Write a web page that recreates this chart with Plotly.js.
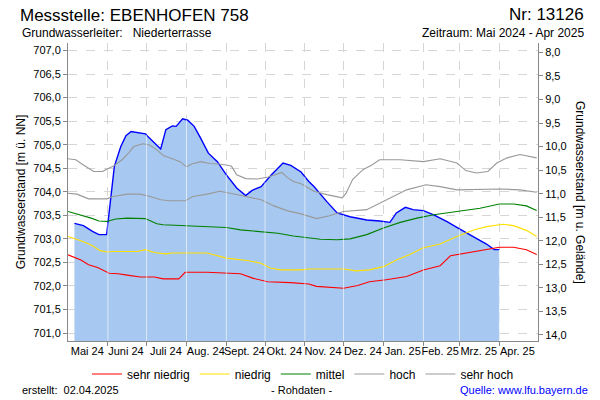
<!DOCTYPE html>
<html><head><meta charset="utf-8">
<script src="https://cdn.plot.ly/plotly-3.0.1.min.js"></script>
<style>html,body{margin:0;padding:0;background:#fff}#chart{width:600px;height:400px}</style>
</head><body><div id="chart"></div>
<script>
// ---------- data ----------
const GELAENDE = 714.96; // ground level [m ü. NN]

const messDates = ['2024-05-06','2024-05-13','2024-05-20','2024-05-25','2024-05-31','2024-06-03','2024-06-06','2024-06-11','2024-06-15','2024-06-19','2024-06-24','2024-06-30','2024-07-06','2024-07-12','2024-07-16','2024-07-21','2024-07-24','2024-07-29','2024-08-02','2024-08-07','2024-08-12','2024-08-18','2024-08-25','2024-09-01','2024-09-09','2024-09-16','2024-09-21','2024-09-28','2024-10-06','2024-10-15','2024-10-21','2024-10-29','2024-11-04','2024-11-08','2024-11-18','2024-11-26','2024-12-06','2024-12-19','2024-12-29','2025-01-06','2025-01-11','2025-01-18','2025-01-24','2025-02-01','2025-02-09','2025-02-19','2025-03-01','2025-03-12','2025-03-22','2025-03-28','2025-04-01'];
const messValues = [703.33,703.28,703.16,703.09,703.09,703.83,704.54,704.96,705.19,705.28,705.25,705.23,705.07,704.91,705.32,705.40,705.39,705.55,705.52,705.39,705.14,704.82,704.64,704.36,704.08,703.92,704.03,704.11,704.36,704.61,704.56,704.42,704.22,704.11,703.79,703.55,703.47,703.40,703.38,703.35,703.55,703.67,703.62,703.60,703.51,703.37,703.21,703.05,702.89,702.77,702.77];

const sehrHochDates = ['2024-05-01','2024-05-07','2024-05-13','2024-05-21','2024-05-28','2024-05-31','2024-06-05','2024-06-12','2024-06-17','2024-06-21','2024-06-28','2024-07-03','2024-07-09','2024-07-14','2024-07-21','2024-07-27','2024-08-01','2024-08-05','2024-08-12','2024-08-19','2024-08-26','2024-09-01','2024-09-05','2024-09-09','2024-09-16','2024-09-25','2024-10-03','2024-10-11','2024-10-14','2024-10-18','2024-10-23','2024-10-29','2024-11-08','2024-11-18','2024-11-30','2024-12-03','2024-12-08','2024-12-16','2024-12-23','2024-12-29','2025-01-14','2025-02-01','2025-02-14','2025-02-27','2025-03-06','2025-03-14','2025-03-23','2025-03-30','2025-04-07','2025-04-17','2025-04-25','2025-04-30'];
const sehrHochValues = [704.70,704.68,704.57,704.43,704.43,704.48,704.54,704.68,704.82,704.96,705.02,705.00,704.89,704.77,704.70,704.64,704.53,704.59,704.64,704.60,704.59,704.57,704.54,704.36,704.28,704.27,704.31,704.38,704.41,704.31,704.22,704.17,704.01,703.94,703.87,703.97,704.26,704.47,704.57,704.68,704.68,704.64,704.70,704.61,704.45,704.40,704.43,704.61,704.72,704.79,704.74,704.72];

const hochDates = ['2024-05-01','2024-05-08','2024-05-17','2024-05-31','2024-06-05','2024-06-16','2024-06-26','2024-07-04','2024-07-12','2024-07-19','2024-07-31','2024-08-06','2024-08-17','2024-08-27','2024-09-04','2024-09-17','2024-09-28','2024-10-08','2024-10-18','2024-10-29','2024-11-10','2024-11-20','2024-12-01','2024-12-19','2024-12-29','2025-01-06','2025-01-19','2025-02-03','2025-02-14','2025-02-27','2025-04-01','2025-04-17','2025-04-30'];
const hochValues = [703.97,703.95,703.85,703.85,703.90,703.95,703.95,703.90,703.83,703.81,703.81,703.90,703.95,704.01,703.97,703.90,703.83,703.70,703.60,703.53,703.43,703.49,703.58,703.62,703.76,703.87,704.04,704.15,704.11,704.04,704.06,704.04,703.99];

const mittelDates = ['2024-05-01','2024-05-11','2024-05-19','2024-05-25','2024-05-31','2024-06-07','2024-06-16','2024-06-30','2024-07-09','2024-07-14','2024-07-30','2024-08-06','2024-08-22','2024-09-01','2024-09-12','2024-09-28','2024-10-11','2024-10-23','2024-11-03','2024-11-13','2024-11-26','2024-12-06','2024-12-19','2025-01-01','2025-01-14','2025-01-27','2025-02-09','2025-03-01','2025-03-17','2025-04-01','2025-04-12','2025-04-22','2025-04-30'];
const mittelValues = [703.58,703.51,703.44,703.38,703.37,703.42,703.44,703.43,703.32,703.30,703.28,703.28,703.26,703.24,703.19,703.16,703.12,703.06,703.03,702.99,702.98,703.00,703.09,703.23,703.35,703.44,703.51,703.58,703.65,703.74,703.74,703.70,703.60];

const niedrigDates = ['2024-05-01','2024-05-11','2024-05-19','2024-05-26','2024-05-31','2024-06-05','2024-06-24','2024-06-30','2024-07-07','2024-07-16','2024-07-21','2024-08-17','2024-09-01','2024-09-17','2024-09-28','2024-10-05','2024-10-13','2024-10-29','2024-11-05','2024-12-01','2024-12-11','2024-12-21','2025-01-01','2025-01-11','2025-01-21','2025-02-01','2025-02-14','2025-02-27','2025-03-12','2025-03-22','2025-04-04','2025-04-12','2025-04-22','2025-04-30'];
const niedrigValues = [703.05,702.96,702.87,702.75,702.72,702.73,702.73,702.77,702.71,702.68,702.70,702.70,702.59,702.54,702.48,702.38,702.34,702.34,702.36,702.36,702.32,702.34,702.41,702.55,702.66,702.81,702.89,703.05,703.19,703.26,703.31,703.28,703.18,703.05];

const sehrNiedrigDates = ['2024-05-01','2024-05-11','2024-05-17','2024-05-24','2024-06-02','2024-06-09','2024-06-16','2024-06-26','2024-07-07','2024-07-14','2024-07-26','2024-07-28','2024-07-31','2024-08-17','2024-09-01','2024-09-12','2024-09-22','2024-10-03','2024-10-21','2024-11-04','2024-11-10','2024-12-01','2024-12-12','2024-12-21','2025-01-03','2025-01-19','2025-02-01','2025-02-14','2025-02-22','2025-03-06','2025-03-19','2025-04-01','2025-04-12','2025-04-22','2025-04-30'];
const sehrNiedrigValues = [702.66,702.55,702.45,702.39,702.27,702.26,702.23,702.19,702.19,702.15,702.15,702.20,702.29,702.29,702.27,702.26,702.16,702.09,702.07,702.04,701.99,701.95,702.01,702.09,702.13,702.20,702.34,702.43,702.64,702.70,702.77,702.82,702.82,702.77,702.67];

const monthStarts = ['2024-06-01','2024-07-01','2024-08-01','2024-09-01','2024-10-01','2024-11-01','2024-12-01','2025-01-01','2025-02-01','2025-03-01','2025-04-01'];
const monthMids = ['2024-05-16','2024-06-15','2024-07-16','2024-08-16','2024-09-15','2024-10-16','2024-11-15','2024-12-16','2025-01-16','2025-02-14','2025-03-16','2025-04-15'];
const monthLabels = ['Mai 24','Juni 24','Juli 24','Aug. 24','Sept. 24','Okt. 24','Nov. 24','Dez. 24','Jan. 25','Feb. 25','Mrz. 25','Apr. 25'];

// ---------- chart ----------
const FONT = 'Liberation Sans, Arial, sans-serif';
const yRange = [700.83, 707.16];
const xRange = ['2024-05-01', '2025-05-01'];

function valueAt(d) {
  const t = Date.parse(d);
  for (let i = 0; i < messDates.length - 1; i++) {
    const a = Date.parse(messDates[i]), b = Date.parse(messDates[i + 1]);
    if (t >= a && t <= b) return messValues[i] + (messValues[i + 1] - messValues[i]) * (t - a) / (b - a);
  }
  return null;
}

const lineW = 1.1;
const traces = [
  {x: messDates, y: messValues, type: 'scatter', mode: 'lines', fill: 'tozeroy',
   fillcolor: '#A7C8F0', line: {color: '#0000FF', width: 1.4}, showlegend: false},
  {x: sehrNiedrigDates, y: sehrNiedrigValues, name: 'sehr niedrig', mode: 'lines', line: {color: '#FF0000', width: lineW}},
  {x: niedrigDates, y: niedrigValues, name: 'niedrig', mode: 'lines', line: {color: '#FFE000', width: lineW}},
  {x: mittelDates, y: mittelValues, name: 'mittel', mode: 'lines', line: {color: '#008000', width: lineW}},
  {x: hochDates, y: hochValues, name: 'hoch', mode: 'lines', line: {color: '#999999', width: lineW}},
  {x: sehrHochDates, y: sehrHochValues, name: 'sehr hoch', mode: 'lines', line: {color: '#999999', width: lineW}},
  // invisible trace carrying the right axis
  {x: [xRange[0]], y: [GELAENDE - yRange[1]], yaxis: 'y2', mode: 'none', showlegend: false, hoverinfo: 'skip'}
];

const shapes = monthStarts.map(d => {
  const v = valueAt(d);
  return v === null ? null : {type: 'line', xref: 'x', yref: 'y', x0: d, x1: d, y0: yRange[0], y1: v,
    line: {color: 'rgba(255,255,255,0.6)', width: 1}, layer: 'above'};
}).filter(Boolean);

function pX(px) { return (px - 68) / 470; }
function pY(py) { return (341 - py) / 298; }

const annotations = [
  {text: 'Nr: 13126', xref: 'paper', yref: 'paper', x: pX(586), y: pY(15), xanchor: 'right', yanchor: 'middle', showarrow: false, font: {family: FONT, size: 17, color: '#000'}},
  {text: 'Grundwasserleiter:\u00a0\u00a0\u00a0Niederterrasse', xref: 'paper', yref: 'paper', x: pX(20), y: pY(33), xanchor: 'left', yanchor: 'middle', showarrow: false, font: {family: FONT, size: 12, color: '#000'}},
  {text: 'Zeitraum: Mai 2024 - Apr 2025', xref: 'paper', yref: 'paper', x: pX(586), y: pY(33), xanchor: 'right', yanchor: 'middle', showarrow: false, font: {family: FONT, size: 12, color: '#000'}},
  {text: 'Grundwasserstand [m u. Gelände]', xref: 'paper', yref: 'paper', x: pX(580), y: 0.5, xanchor: 'center', yanchor: 'middle', textangle: 90, showarrow: false, font: {family: FONT, size: 12, color: '#000'}},
  {text: 'erstellt:\u00a0\u00a002.04.2025', xref: 'paper', yref: 'paper', x: pX(20), y: pY(390), xanchor: 'left', yanchor: 'middle', showarrow: false, font: {family: FONT, size: 11, color: '#000'}},
  {text: '- Rohdaten -', xref: 'paper', yref: 'paper', x: pX(301), y: pY(390), xanchor: 'center', yanchor: 'middle', showarrow: false, font: {family: FONT, size: 11, color: '#000'}},
  {text: 'Quelle: www.lfu.bayern.de', xref: 'paper', yref: 'paper', x: pX(590), y: pY(390), xanchor: 'right', yanchor: 'middle', showarrow: false, font: {family: FONT, size: 11, color: '#0000FF'}}
];

const layout = {
  width: 600, height: 400,
  margin: {l: 68, r: 62, t: 43, b: 59, pad: 0},
  paper_bgcolor: '#fff', plot_bgcolor: '#fff',
  separators: ',.',
  font: {family: FONT, size: 11, color: '#000'},
  title: {text: 'Messstelle: EBENHOFEN 758', xref: 'container', yref: 'container', x: 20 / 600, xanchor: 'left', y: 1 - 15 / 400, yanchor: 'middle', font: {family: FONT, size: 17, color: '#000'}},
  xaxis: {
    type: 'date', range: xRange, showline: true, linecolor: '#888', linewidth: 1, mirror: false,
    tickmode: 'array', tickvals: monthMids, ticktext: monthLabels, ticks: '', showgrid: false, tickangle: 0,
    tickfont: {family: FONT, size: 11, color: '#000'},
    minor: {tickmode: 'array', tickvals: monthStarts, ticks: 'outside', ticklen: 4, tickcolor: '#888', showgrid: true, gridcolor: '#D6D6D6', griddash: 'dash', gridwidth: 1},
    zeroline: false, fixedrange: true, automargin: false
  },
  yaxis: {
    range: yRange, dtick: 0.5, tick0: 701, tickformat: '.1f', showline: true, linecolor: '#888', linewidth: 1,
    ticks: 'outside', ticklen: 4, tickcolor: '#888', showgrid: true, gridcolor: '#D6D6D6', griddash: 'dash', zeroline: false,
    tickfont: {family: FONT, size: 11, color: '#000'}, automargin: false,
    title: {text: 'Grundwasserstand [m ü. NN]', font: {family: FONT, size: 12, color: '#000'}, standoff: 5}
  },
  yaxis2: {
    overlaying: 'y', side: 'right', range: [GELAENDE - yRange[0], GELAENDE - yRange[1]], dtick: 0.5, tick0: 8, tickformat: '.1f',
    showline: true, linecolor: '#888', linewidth: 1, ticks: 'outside', ticklen: 4, tickcolor: '#888', showgrid: false, zeroline: false,
    tickfont: {family: FONT, size: 11, color: '#000'}, automargin: false
  },
  legend: {orientation: 'h', x: 0.5, xanchor: 'center', y: pY(374), yanchor: 'middle', font: {family: FONT, size: 12, color: '#000'}, bgcolor: 'rgba(0,0,0,0)', itemwidth: 30, tracegroupgap: 0},
  shapes: shapes,
  annotations: annotations
};

Plotly.newPlot('chart', traces, layout, {staticPlot: true, displayModeBar: false});
</script></body></html>
